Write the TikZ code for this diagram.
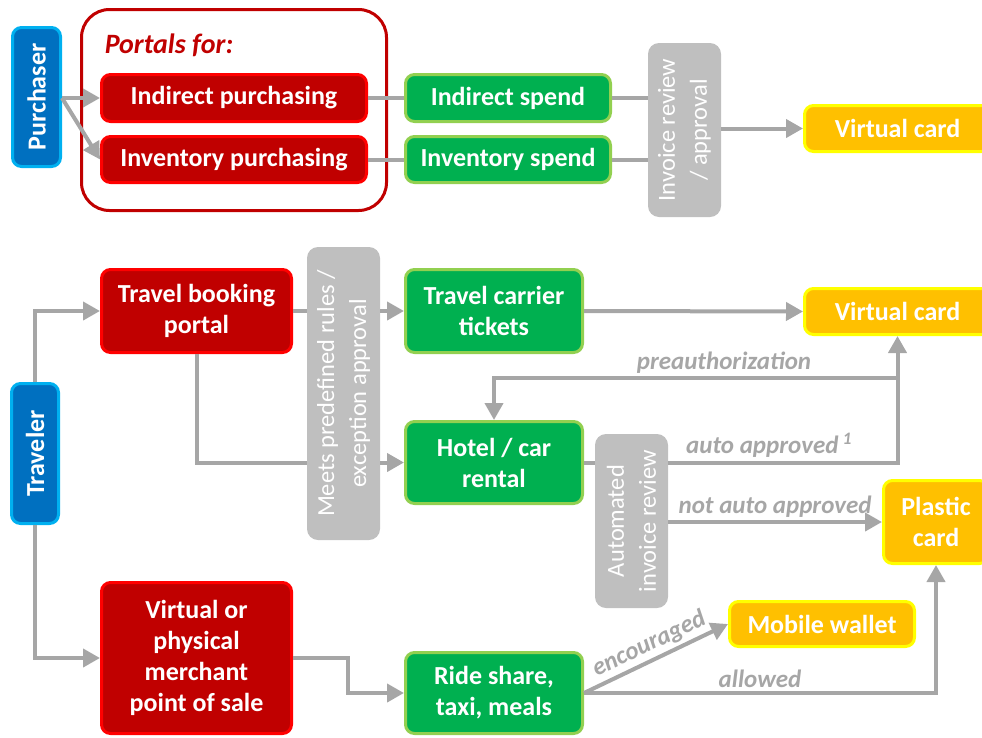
\documentclass[tikz,border=0pt]{standalone}
\usepackage{fontspec}
\setmainfont{Carlito}
\usetikzlibrary{arrows.meta}
\definecolor{portalred}{HTML}{C00000}
\definecolor{portaledge}{HTML}{FF0000}
\definecolor{spendgreen}{HTML}{00B050}
\definecolor{spendedge}{HTML}{92D050}
\definecolor{userblue}{HTML}{0070C0}
\definecolor{useredge}{HTML}{00B0F0}
\definecolor{cardyellow}{HTML}{FFC000}
\definecolor{cardedge}{HTML}{FFFF00}
\definecolor{stepgray}{HTML}{BFBFBF}
\definecolor{linegray}{HTML}{A6A6A6}

\begin{document}
\begin{tikzpicture}[x=1pt,y=-1pt,
        box/.style={draw,line width=3pt,rounded corners=9pt,text=white,inner sep=0pt,
          align=center,font=\fontsize{26}{31}\selectfont\bfseries},
        redbox/.style={box,fill=portalred,draw=portaledge},
        greenbox/.style={box,fill=spendgreen,draw=spendedge},
        bluebox/.style={box,fill=userblue,draw=useredge,rotate=90},
        cardbox/.style={box,fill=cardyellow,draw=cardedge},
        graybox/.style={fill=stepgray,rounded corners=11pt,text=white,inner sep=0pt,
          align=center,rotate=90,font=\fontsize{24.5}{32}\selectfont},
        gline/.style={draw=linegray,line width=4pt},
        garrow/.style={gline,-{Triangle[length=17pt,width=18pt]}},
        glabel/.style={text=linegray,inner sep=3pt,font=\fontsize{25}{28}\selectfont\bfseries\itshape}]
        \useasboundingbox (0,0) rectangle (982,737);
        \clip (0,0) rectangle (982,737);

        \node[draw=portalred,line width=3pt,rounded corners=28pt,minimum width=305pt,
          minimum height=201pt] (portals) at (234,110) {};
        \node[text=portalred,font=\fontsize{28}{32}\selectfont\bfseries\itshape]
          (portalsfor) at (169,45) {Portals for:};

        \node[bluebox,minimum width=139pt,minimum height=48pt] (purch) at (36.5,97) {Purchaser};
        \node[redbox,minimum width=265pt,minimum height=47pt] (indp) at (234,98) {Indirect purchasing};
        \node[redbox,minimum width=265pt,minimum height=46pt] (invp) at (234,159.5) {Inventory purchasing};
        \node[greenbox,minimum width=205pt,minimum height=47pt] (inds) at (508,98) {Indirect spend};
        \node[greenbox,minimum width=205pt,minimum height=46pt] (invs) at (508,159.5) {Inventory spend};
        \node[graybox,minimum width=174pt,minimum height=73pt] (invrev) at (684.5,130)
          {Invoice review\\/ approval};
        \node[cardbox,minimum width=186pt,minimum height=46pt] (vc1) at (897.5,128.5) {Virtual card};

        \node[bluebox,minimum width=140pt,minimum height=47pt] (trav) at (35,453.5) {Traveler};
        \node[redbox,minimum width=190pt,minimum height=83pt] (tbp) at (196.5,311)
          {Travel booking\\portal};
        \node[graybox,minimum width=293pt,minimum height=73pt] (rules) at (343.5,393.5)
          {Meets predefined rules /\\exception approval};
        \node[greenbox,minimum width=177pt,minimum height=83pt] (tct) at (494,311)
          {Travel carrier\\tickets};
        \node[cardbox,minimum width=186pt,minimum height=46pt] (vc2) at (897.5,311.5) {Virtual card};
        \node[greenbox,minimum width=177pt,minimum height=82pt] (hotel) at (494,462.5)
          {Hotel / car\\rental};
        \node[graybox,minimum width=174pt,minimum height=73pt] (autorev) at (631.5,521)
          {Automated\\invoice review};
        \node[cardbox,minimum width=105pt,minimum height=83pt] (plastic) at (936,522)
          {Plastic\\card};
        \node[redbox,minimum width=190pt,minimum height=151pt] (vpos) at (196.5,658)
          {Virtual or\\physical\\merchant\\point of sale};
        \node[greenbox,minimum width=177pt,minimum height=81pt] (ride) at (494,693)
          {Ride share,\\taxi, meals};
        \node[cardbox,minimum width=185pt,minimum height=45pt] (mwal) at (822,624) {Mobile wallet};

        \draw[garrow] (purch.south |- indp.west) -- (indp.west);
        \draw[garrow] (purch.south |- indp.west) -- (invp.west);
        \draw[gline] (indp.east) -- (inds.west);
        \draw[gline] (invp.east) -- (invs.west);
        \draw[gline] (inds.east) -- (inds.east -| invrev.north);
        \draw[gline] (invs.east) -- (invs.east -| invrev.north);
        \draw[garrow] (invrev.south |- vc1.west) -- (vc1.west);

        \draw[garrow] (trav.east) |- (tbp.west);
        \draw[garrow] (trav.west) |- (vpos.west);
        \draw[gline] (tbp.east) -- (tbp.east -| rules.north);
        \draw[garrow] (tct.west -| rules.south) -- (tct.west);
        \draw[gline] (tbp.south) |- (hotel.west -| rules.north);
        \draw[garrow] (hotel.west -| rules.south) -- (hotel.west);
        \draw[garrow] (tct.east) -- (vc2.west);
        \draw[gline] (hotel.east) -- (hotel.east -| autorev.north);
        \draw[garrow] (hotel.east -| autorev.south) -| node[glabel,pos=0.22,above]
          {auto approved\,\textsuperscript{1}} (vc2.south);
        \coordinate (preauth) at (897.5,378);
        \draw[garrow] (preauth) -| node[glabel,pos=0.215,above] {preauthorization} (hotel.north);
        \draw[garrow] (plastic.west -| autorev.south) -- node[glabel,above,pos=0.5]
          {not auto approved} (plastic.west);
        \draw[garrow] (vpos.east) -- ++(55,0) |- (ride.west);
        \draw[garrow] (ride.east) -- node[glabel,above,sloped,pos=0.5] {encouraged} (mwal.west);
        \draw[garrow] (ride.east) -| node[glabel,pos=0.25,above] {allowed} (plastic.south);
      \end{tikzpicture}
\end{document}
